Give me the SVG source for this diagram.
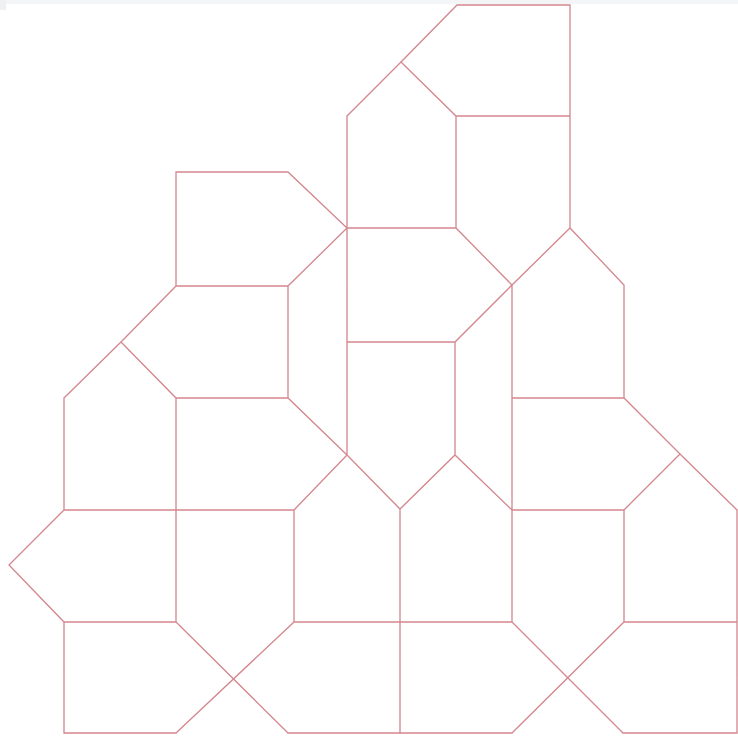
<svg xmlns="http://www.w3.org/2000/svg" width="738" height="736" viewBox="0 0 738 736">
  <style>
    .edge { fill: none; stroke: #d3868d; stroke-width: 1.3; stroke-linejoin: miter; stroke-linecap: square; }
  </style>
  <rect x="0" y="0" width="738" height="736" fill="#ffffff"/>
  <rect x="0" y="0" width="738" height="4" fill="#f4f5f7"/>
  <rect x="0" y="0" width="6" height="10" fill="#eef0f2"/>
  <g id="tiling">
    <path class="edge" d="
      M401,62 L457,5 L570,5 L570,228
      M401,62 L456,116 L570,116
      M456,116 L456,228
      M347,116 L401,62
      M347,116 L347,455
      M347,228 L456,228 L512,285 L570,228 L624,285 L624,398
      M512,285 L512,622
      M512,285 L455,342 L347,342
      M455,342 L455,455
      M176,172 L288,172 L347,228 L288,286
      M176,172 L176,286 L288,286 L288,398
      M176,286 L121,342 L64,398
      M121,342 L176,398 L288,398 L347,455
      M176,398 L176,622
      M64,398 L64,510 L294,510 L347,455
      M294,510 L294,622
      M347,455 L400,509 L455,455 L512,510
      M400,509 L400,733
      M512,398 L624,398 L680,454 L737,510
      M680,454 L624,510 L512,510
      M624,510 L624,622
      M737,510 L737,733
      M64,510 L9,565 L64,622 L176,622
      M64,622 L64,733 L176,733
      M176,622 L288,733
      M294,622 L176,733
      M294,622 L512,622
      M288,733 L512,733
      M512,622 L623,733
      M624,622 L512,733
      M624,622 L737,622
      M623,733 L737,733"/>
  </g>
</svg>
